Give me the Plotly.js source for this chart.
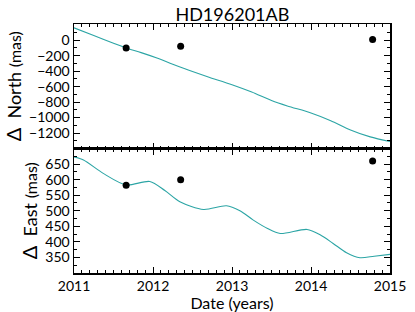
<!DOCTYPE html>
<html><head><meta charset="utf-8">
<script src="https://cdn.plot.ly/plotly-3.0.1.min.js"></script>
<style>html,body{margin:0;padding:0;background:#fff}#plot{width:415px;height:312px}</style>
</head><body><div id="plot"></div>
<script>
// Observation epochs and offsets
const obsDates = [2011.66, 2012.35, 2014.78];
const obsNorth = [-99, -78, 9];
const obsEast = [582, 600, 660];

// Model track
const modelDatesN = [2011.00, 2011.25, 2011.50, 2011.66, 2011.85, 2012.05, 2012.25, 2012.50, 2012.70, 2013.00, 2013.25, 2013.50, 2013.70, 2014.00, 2014.25, 2014.50, 2014.75, 2015.00];
const modelNorth = [160, 60, -40, -100, -160, -230, -310, -405, -475, -575, -670, -780, -850, -940, -1040, -1160, -1250, -1310];

const modelDatesE = [2011.00, 2011.12, 2011.37, 2011.66, 2011.96, 2012.15, 2012.34, 2012.64, 2012.93, 2013.10, 2013.27, 2013.45, 2013.61, 2013.95, 2014.12, 2014.28, 2014.45, 2014.62, 2014.80, 2015.00];
const modelEast = [673, 663, 620, 583, 594, 565, 529, 504, 516, 500, 470, 443, 427, 440, 422, 395, 365, 349, 354, 360];

const xTicks = [2011, 2012, 2013, 2014, 2015];
const northTicks = [0, -200, -400, -600, -800, -1000, -1200];
const eastTicks = [350, 400, 450, 500, 550, 600, 650];

const lineColor = '#2ca5a5';
const font = {family: 'Lato, "DejaVu Sans", sans-serif', size: 14, color: '#000'};

const traces = [
  {x: modelDatesN, y: modelNorth, mode: 'lines', line: {color: lineColor, width: 1.1, shape: 'spline', smoothing: 0.8}, xaxis: 'x2', yaxis: 'y2', hoverinfo: 'skip'},
  {x: obsDates, y: obsNorth, mode: 'markers', marker: {color: '#000', size: 7}, xaxis: 'x2', yaxis: 'y2'},
  {x: modelDatesE, y: modelEast, mode: 'lines', line: {color: lineColor, width: 1.1, shape: 'spline', smoothing: 0.8}, xaxis: 'x', yaxis: 'y', hoverinfo: 'skip'},
  {x: obsDates, y: obsEast, mode: 'markers', marker: {color: '#000', size: 7}, xaxis: 'x', yaxis: 'y'}
];

const axCommon = {
  showline: true, linecolor: '#000', linewidth: 1.5, mirror: 'ticks',
  ticks: 'inside', ticklen: 6, tickwidth: 1, tickcolor: '#000',
  showgrid: false, zeroline: false, tickfont: font
};

const layout = {
  width: 415, height: 312,
  margin: {l: 74, r: 25, t: 24, b: 39},
  paper_bgcolor: '#fff', plot_bgcolor: '#fff',
  showlegend: false,
  font: font,
  title: {text: 'HD196201AB', font: {family: font.family, size: 18, color: '#000'}, x: 0.56, xanchor: 'center', y: 0.974, yanchor: 'top'},
  xaxis: Object.assign({}, axCommon, {
    anchor: 'y', range: [2011, 2015], tickvals: xTicks, ticktext: xTicks.map(String),
    minor: {dtick: 0.1, ticks: 'inside', ticklen: 3, tickcolor: '#000', showgrid: false},
    title: {text: 'Date (years)', font: {family: font.family, size: 16, color: '#000'}, standoff: 0}
  }),
  xaxis2: Object.assign({}, axCommon, {
    anchor: 'y2', matches: 'x', range: [2011, 2015], tickvals: xTicks, showticklabels: false,
    minor: {dtick: 0.1, ticks: 'inside', ticklen: 3, tickcolor: '#000', showgrid: false}
  }),
  yaxis: Object.assign({}, axCommon, {
    domain: [0, 0.5], range: [300, 700], tickvals: eastTicks, ticktext: eastTicks.map(String),
    minor: {dtick: 25, ticks: 'inside', ticklen: 3, tickcolor: '#000', showgrid: false},
    title: {text: '<span style="font-size:20px">Δ</span>  East <span style="font-size:16px">(mas)</span>', font: {family: font.family, size: 18, color: '#000'}, standoff: 3}
  }),
  yaxis2: Object.assign({}, axCommon, {
    domain: [0.5, 1], range: [-1400, 210], tickvals: northTicks,
    ticktext: northTicks.map(v => v < 0 ? '\u2212' + Math.abs(v) : String(v)),
    minor: {dtick: 100, ticks: 'inside', ticklen: 3, tickcolor: '#000', showgrid: false},
    title: {text: '<span style="font-size:20px">Δ</span>  North <span style="font-size:16px">(mas)</span>', font: {family: font.family, size: 18, color: '#000'}, standoff: 3}
  })
};

Plotly.newPlot('plot', traces, layout, {displayModeBar: false, staticPlot: true});
</script></body></html>
